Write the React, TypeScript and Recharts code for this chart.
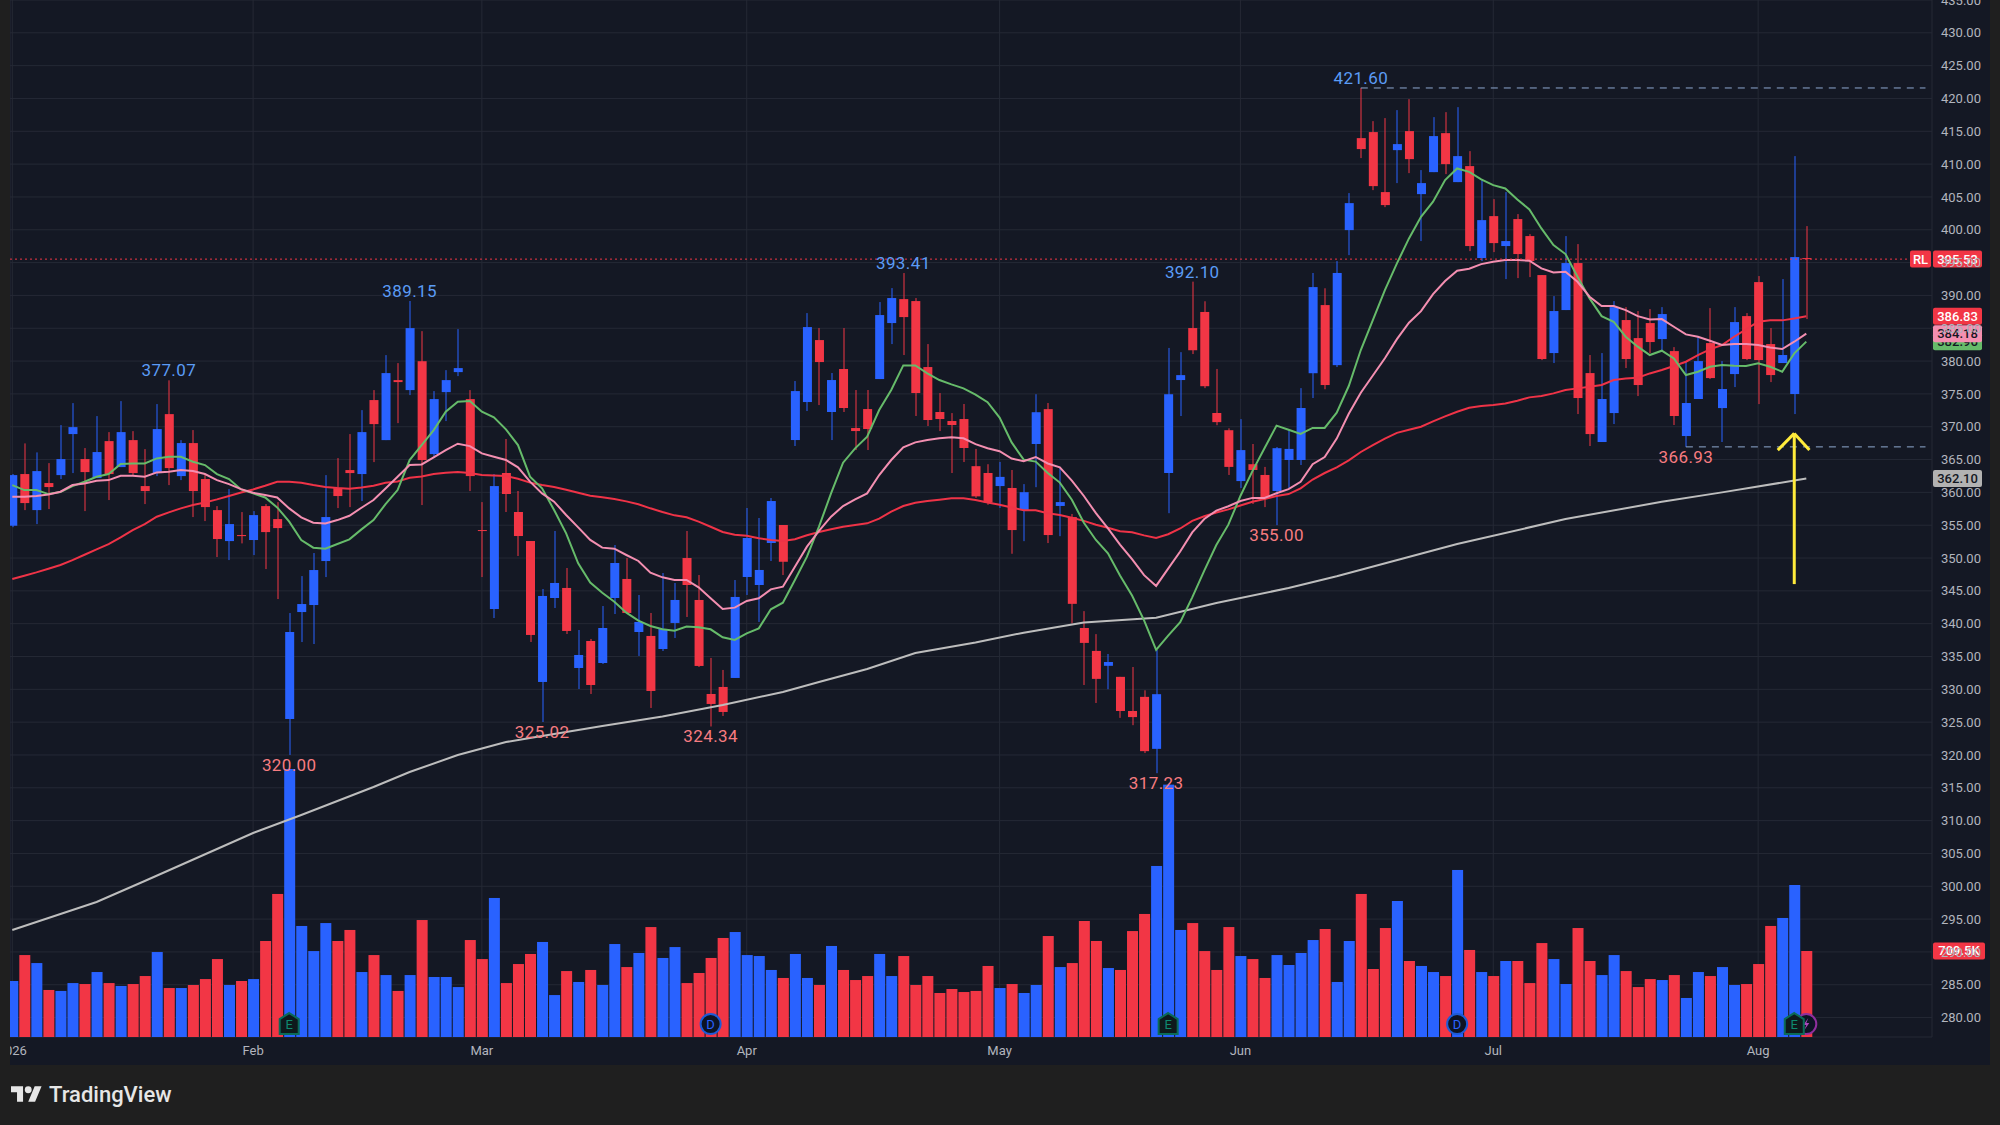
import { Bar, CartesianGrid, ComposedChart, Line, ReferenceDot, ReferenceLine, XAxis, YAxis } from 'recharts'

const opens = [
  354.92, 362.79, 357.3, 361.42, 362.63, 368.88, 365.07, 362.18, 367.81, 363.85,
  367.96, 360.96, 362.94, 371.92, 362.48, 367.51, 362.03, 357.3, 352.58, 353.5,
  352.74, 357.91, 355.93, 325.48, 341.77, 342.84, 349.54, 360.65, 363.4, 362.79,
  374.06, 367.96, 377.1, 375.58, 379.98, 365.83, 375.27, 378.32, 374.21, 354.26,
  342.23, 362.95, 357.01, 352.59, 331.12, 343.91, 345.44, 333.25, 337.36, 334.01,
  343.91, 346.81, 338.73, 338.13, 336.14, 340.11, 350.0, 343.61, 329.29, 330.36,
  331.73, 347.11, 345.89, 352.29, 355.03, 367.97, 373.76, 383.2, 372.24, 378.79,
  369.8, 372.69, 377.26, 385.79, 389.44, 389.14, 379.09, 372.24, 370.87, 371.17,
  363.99, 362.95, 360.96, 360.67, 357.29, 367.37, 372.68, 357.93, 356.24, 339.34,
  335.85, 333.58, 331.9, 326.7, 328.85, 320.93, 362.95, 377.11, 385.03, 387.48,
  372.09, 369.47, 361.72, 364.29, 362.65, 360.21, 364.93, 364.93, 378.15, 388.53,
  379.38, 399.95, 413.96, 414.88, 405.74, 412.13, 415.03, 405.43, 408.78, 414.72,
  407.26, 409.7, 395.69, 402.08, 397.52, 401.63, 399.04, 393.1, 381.22, 387.77,
  394.93, 378.17, 367.67, 372.08, 386.25, 383.5, 385.79, 383.35, 381.52, 368.58,
  374.22, 382.74, 372.84, 378.02, 386.85, 392.03, 382.59, 379.7, 374.98, 395.69,
]
const closes = [
  362.63, 358.37, 363.24, 360.81, 365.07, 369.94, 363.09, 366.14, 362.79, 369.18,
  362.94, 360.2, 369.64, 363.7, 367.51, 360.2, 357.76, 352.89, 355.17, 353.34,
  356.54, 353.95, 354.56, 338.73, 342.99, 348.17, 356.24, 359.44, 362.94, 369.18,
  370.4, 378.17, 376.8, 385.02, 364.92, 374.21, 377.1, 378.93, 362.48, 354.11,
  360.96, 359.75, 353.35, 338.28, 344.22, 346.2, 338.89, 335.23, 330.66, 339.34,
  349.24, 341.63, 340.26, 329.75, 339.19, 343.61, 345.89, 333.56, 327.77, 326.55,
  344.07, 353.05, 348.18, 358.68, 349.43, 375.43, 385.18, 379.85, 377.11, 372.85,
  369.34, 369.65, 387.01, 389.6, 386.7, 375.13, 371.02, 371.17, 370.26, 366.76,
  359.39, 358.46, 362.36, 354.26, 360.03, 372.21, 353.5, 358.52, 343.02, 337.07,
  331.59, 334.16, 326.7, 325.77, 320.58, 329.26, 374.95, 377.86, 381.65, 376.17,
  370.7, 363.88, 366.44, 363.41, 359.16, 366.73, 366.62, 372.85, 391.27, 376.35,
  393.42, 404.06, 412.29, 406.65, 403.76, 413.05, 410.76, 407.11, 414.27, 410.0,
  411.22, 397.52, 401.47, 397.97, 398.28, 396.3, 395.23, 380.31, 387.62, 394.93,
  374.37, 368.88, 374.22, 388.22, 380.31, 376.35, 382.9, 387.16, 371.63, 373.61,
  380.0, 377.41, 375.74, 385.94, 380.31, 380.15, 377.87, 380.92, 395.84, 395.53,
]
const highs = [
  362.8, 367.46, 366.09, 364.46, 370.25, 373.6, 366.75, 371.62, 369.18, 373.9,
  369.33, 366.59, 373.45, 377.07, 367.96, 369.49, 362.63, 357.91, 360.5, 357.0,
  357.15, 358.22, 358.52, 341.62, 347.25, 350.76, 362.63, 365.22, 368.88, 372.53,
  375.58, 380.91, 379.69, 389.15, 384.56, 375.43, 378.62, 384.87, 375.58, 358.52,
  362.79, 368.13, 360.21, 352.59, 345.28, 354.12, 348.48, 339.04, 337.67, 342.69,
  351.98, 350.0, 344.37, 341.63, 347.72, 346.2, 354.12, 347.41, 334.78, 332.95,
  346.65, 357.62, 356.1, 359.14, 355.03, 376.96, 387.31, 385.03, 378.18, 385.03,
  375.59, 375.59, 388.99, 391.12, 393.41, 389.6, 382.59, 375.13, 372.08, 373.46,
  366.62, 364.29, 364.64, 363.41, 361.26, 374.95, 373.61, 363.7, 356.71, 341.91,
  338.41, 335.38, 331.9, 333.4, 329.85, 336.02, 382.0, 381.36, 392.1, 389.11,
  378.8, 369.76, 371.16, 367.37, 363.88, 366.91, 369.53, 375.88, 393.42, 391.09,
  395.23, 405.59, 421.6, 416.55, 417.01, 418.23, 419.9, 409.09, 417.16, 417.92,
  418.68, 411.98, 407.57, 404.67, 405.74, 402.39, 399.34, 393.1, 389.9, 399.04,
  397.82, 380.92, 381.22, 389.14, 388.22, 387.62, 387.92, 388.22, 382.13, 380.0,
  383.66, 388.07, 380.0, 388.22, 387.31, 392.95, 385.03, 392.49, 411.22, 400.56,
]
const lows = [
  354.7, 357.3, 355.17, 357.46, 362.03, 362.94, 357.15, 362.18, 358.83, 363.85,
  362.63, 358.22, 362.48, 361.11, 361.87, 356.24, 355.63, 350.15, 349.69, 352.23,
  350.45, 348.32, 343.75, 320.0, 337.2, 336.9, 347.1, 357.61, 357.76, 358.68,
  364.61, 367.96, 370.55, 374.82, 358.07, 365.22, 370.86, 377.71, 360.2, 347.1,
  340.86, 357.01, 350.31, 337.21, 325.02, 342.39, 338.43, 330.05, 329.29, 333.86,
  341.47, 341.63, 335.08, 327.16, 335.84, 337.82, 341.02, 333.4, 324.34, 325.94,
  331.73, 344.37, 340.26, 349.55, 347.41, 367.06, 372.39, 373.3, 367.97, 372.24,
  366.45, 366.45, 377.26, 382.59, 380.92, 371.63, 370.11, 369.34, 362.95, 364.62,
  359.16, 358.11, 357.64, 350.65, 352.57, 360.79, 352.28, 353.33, 340.04, 330.66,
  327.92, 330.02, 325.65, 324.54, 320.29, 317.23, 356.83, 371.63, 381.07, 375.88,
  370.23, 362.65, 360.67, 358.23, 357.76, 355.0, 360.67, 364.17, 374.37, 375.71,
  379.09, 396.14, 410.92, 406.04, 403.45, 407.11, 408.63, 398.28, 408.78, 408.48,
  407.26, 396.75, 395.23, 396.6, 392.49, 392.64, 392.79, 380.15, 379.7, 387.77,
  371.93, 367.06, 367.67, 370.41, 378.94, 374.67, 381.22, 381.52, 370.26, 366.93,
  374.22, 377.26, 367.67, 376.04, 380.15, 373.45, 376.8, 379.7, 371.93, 386.4,
]
const volumes = [
  462, 676, 610, 388, 380, 445, 437, 536, 445, 421,
  437, 503, 701, 404, 404, 429, 478, 643, 429, 462,
  478, 792, 1180, 2211, 916, 709, 940, 792, 883, 536,
  676, 511, 380, 511, 965, 495, 495, 412, 800, 643,
  1147, 445, 602, 685, 784, 346, 544, 454, 553, 429,
  767, 577, 693, 907, 652, 742, 445, 528, 652, 817,
  866, 676, 668, 553, 487, 685, 487, 429, 751, 553,
  470, 503, 685, 503, 668, 429, 503, 363, 396, 371,
  380, 586, 404, 437, 363, 429, 833, 577, 610, 957,
  792, 569, 553, 874, 1015, 1411, 2082, 883, 940, 709,
  553, 907, 668, 643, 487, 676, 594, 693, 800, 891,
  454, 792, 1180, 561, 899, 1122, 627, 586, 536, 503,
  1378, 718, 536, 503, 627, 627, 445, 775, 643, 437,
  899, 627, 511, 676, 544, 412, 478, 470, 511, 322,
  536, 503, 577, 429, 437, 602, 916, 982, 1254, 709.5,
]
const greenMa = [
  361.1, 360.35, 360.35, 359.74, 360.05, 360.96, 361.62, 362.38, 362.79, 364.31,
  364.41, 364.41, 365.17, 365.43, 365.43, 364.66, 364.16, 362.79, 362.03, 360.45,
  359.84, 359.23, 357.71, 355.53, 352.74, 351.57, 351.41, 352.13, 352.84, 354.36,
  355.78, 358.22, 360.35, 364.92, 367.2, 369.49, 372.28, 373.8, 373.9, 372.28,
  371.42, 369.6, 367.21, 362.39, 360.61, 357.31, 353.76, 349.19, 346.25, 344.72,
  343.35, 341.68, 340.46, 339.65, 339.14, 338.94, 339.55, 339.45, 339.14, 337.92,
  337.52, 338.53, 339.29, 342.19, 343.2, 346.65, 350.21, 354.77, 359.85, 364.52,
  366.7, 368.48, 372.54, 375.59, 379.34, 379.34, 378.13, 377.11, 376.45, 375.84,
  374.89, 373.73, 371.39, 367.61, 364.99, 364.69, 362.94, 361.49, 358.87, 355.37,
  352.75, 350.71, 347.33, 344.3, 340.51, 336.02, 338.18, 340.22, 344.01, 348.09,
  351.99, 355.08, 359.45, 363.24, 366.73, 370.17, 369.53, 368.89, 369.82, 369.82,
  372.15, 376.2, 381.68, 386.25, 390.81, 394.88, 398.68, 401.98, 404.27, 407.57,
  409.34, 408.83, 407.67, 406.8, 406.3, 404.62, 403.1, 400.2, 397.67, 396.3,
  392.84, 389.55, 386.85, 385.99, 383.71, 382.19, 380.92, 381.58, 380.41, 377.87,
  378.38, 379.14, 379.39, 379.29, 379.24, 379.65, 379.14, 378.38, 381.17, 382.96,
]
const pinkMa = [
  359.33, 359.33, 359.44, 359.69, 360.1, 361.11, 361.36, 361.77, 361.87, 362.53,
  362.53, 362.38, 363.04, 363.14, 363.4, 363.24, 362.79, 361.87, 361.26, 360.5,
  359.94, 359.59, 359.23, 357.56, 356.19, 355.38, 355.27, 355.78, 356.44, 357.66,
  358.83, 360.6, 362.38, 364.16, 364.26, 365.33, 366.44, 367.41, 367.05, 365.93,
  365.43, 364.93, 363.81, 361.63, 359.85, 358.58, 356.55, 354.67, 352.75, 351.58,
  351.42, 350.46, 349.55, 347.77, 347.06, 346.65, 346.65, 345.54, 343.86, 342.24,
  342.44, 343.46, 343.86, 345.23, 345.64, 348.68, 351.73, 354.12, 356.3, 357.92,
  358.94, 359.85, 362.64, 364.93, 366.86, 367.62, 367.97, 368.23, 368.38, 368.23,
  367.34, 366.73, 366.27, 365.16, 364.75, 365.39, 364.4, 363.82, 361.78, 359.45,
  356.83, 354.5, 352.05, 349.83, 347.39, 345.75, 348.38, 351.0, 353.91, 355.95,
  357.23, 357.88, 358.69, 359.16, 359.16, 359.86, 360.5, 361.6, 364.29, 365.39,
  368.19, 371.98, 375.18, 377.81, 380.43, 383.34, 385.85, 387.6, 390.2, 392.2,
  393.75, 394.06, 394.77, 395.13, 395.38, 395.38, 395.28, 394.11, 393.5, 393.6,
  392.08, 389.8, 388.38, 388.38, 387.77, 386.85, 386.35, 386.4, 385.23, 384.06,
  383.71, 383.1, 382.44, 382.59, 382.59, 382.44, 382.08, 381.83, 382.95, 384.18,
]
const redMa = [
  346.8, 347.31, 347.81, 348.37, 348.93, 349.69, 350.5, 351.31, 352.13, 353.14,
  354.26, 355.17, 356.29, 356.95, 357.56, 358.07, 358.47, 358.93, 359.44, 359.99,
  360.45, 361.01, 361.62, 361.62, 361.47, 361.11, 360.81, 360.65, 360.55, 360.75,
  361.01, 361.47, 361.67, 362.23, 362.43, 362.79, 362.99, 363.09, 362.94, 362.63,
  362.56, 362.49, 362.08, 361.48, 361.12, 360.82, 360.41, 359.95, 359.5, 359.24,
  358.99, 358.63, 358.18, 357.57, 357.01, 356.5, 356.2, 355.54, 354.77, 353.96,
  353.56, 353.4, 353.0, 352.75, 352.59, 352.85, 353.46, 353.96, 354.37, 354.77,
  355.03, 355.28, 355.99, 357.06, 357.92, 358.43, 358.68, 358.89, 359.09, 359.09,
  358.85, 358.46, 358.11, 357.7, 357.29, 357.29, 356.83, 356.54, 356.13, 355.66,
  355.08, 354.61, 354.09, 353.91, 353.45, 353.04, 353.62, 354.5, 355.66, 356.36,
  356.94, 357.41, 357.99, 358.57, 358.98, 359.45, 359.74, 360.61, 361.96, 362.95,
  363.82, 364.87, 366.15, 367.2, 368.19, 369.06, 369.53, 370.0, 370.81, 371.57,
  372.28, 372.9, 373.15, 373.3, 373.55, 373.96, 374.47, 374.67, 375.08, 375.59,
  375.84, 376.09, 376.35, 377.11, 377.36, 377.46, 378.12, 378.63, 379.24, 379.9,
  380.92, 381.78, 382.44, 383.71, 384.82, 385.99, 386.2, 386.2, 386.5, 386.83,
]
// the 200 line is nearly straight, so it is read at these bars only
const grayMaIndex = [0, 7, 11, 14, 20, 24, 30, 33, 37, 41, 43, 49, 54, 59, 64, 67, 71, 75, 80, 84, 89, 95, 100, 106, 110, 120, 129, 137, 142, 149]
const grayMaValues = [293.34, 297.6, 300.8, 303.24, 308.11, 310.85, 315.12, 317.4, 319.99, 321.97, 322.58, 324.41, 325.86, 327.61, 329.59, 331.11, 333.09, 335.53, 337.12, 338.63, 340.17, 340.9, 343.14, 345.43, 347.21, 352.13, 355.93, 358.57, 360.0, 362.1]

const monthTicks = [0, 20, 39, 61, 82, 102, 123, 145]
const monthLabels = ['2026', 'Feb', 'Mar', 'Apr', 'May', 'Jun', 'Jul', 'Aug']
const priceTicks = [280, 285, 290, 295, 300, 305, 310, 315, 320, 325, 330, 335, 340, 345, 350, 355, 360, 365, 370, 375, 380, 385, 390, 395, 400, 405, 410, 415, 420, 425, 430, 435]

const highLabels = [[13, 377.07], [33, 389.15], [74, 393.41], [98, 392.1], [112, 421.6]]
const lowLabelBars = [23, 44, 58, 95, 105, 139]
const dividendBars = [58, 120]
const earningsBars = [23, 96, 148]

const X_MIN = -0.19
const X_MAX = 159.44
const BLUE = '#2962ff'
const RED = '#f23645'
const FONT = 'Roboto, sans-serif'

const rows = opens.map((open, i) => {
  const grayAt = grayMaIndex.indexOf(i)
  return {
    i,
    open,
    close: closes[i],
    high: highs[i],
    low: lows[i],
    range: [lows[i], highs[i]],
    volume: volumes[i],
    green: greenMa[i],
    pink: pinkMa[i],
    red: redMa[i],
    gray: grayAt >= 0 ? grayMaValues[grayAt] : undefined,
    lowMark: lowLabelBars.includes(i) ? lows[i] : undefined,
  }
})

const barColor = (row: any) => (row.close >= row.open ? BLUE : RED)

function Candle(props: any) {
  const { x, y, width, height, payload } = props
  if (height == null) return null
  const perUnit = height / (payload.high - payload.low)
  const top = y + (payload.high - Math.max(payload.open, payload.close)) * perUnit
  const bodyHeight = Math.max(1, Math.abs(payload.open - payload.close) * perUnit)
  const color = barColor(payload)
  const mid = Math.round(x + width / 2)
  return (
    <g>
      <rect x={mid - 0.5} y={y} width={1} height={height} fill={color} />
      <rect x={x} y={top} width={width} height={bodyHeight} fill={color} />
    </g>
  )
}

function VolumeBar(props: any) {
  const { x, y, width, height, payload } = props
  return <rect x={x} y={y} width={width} height={height} fill={barColor(payload)} />
}

function Badge({ cx, cy, text, fill, color, width = 49 }: any) {
  return (
    <g>
      <rect x={cx + 1} y={cy - 8.5} width={width} height={17} rx={2} fill={fill} />
      <text x={cx + 1 + width / 2} y={cy + 4.5} textAnchor="middle" fontFamily={FONT} fontSize={13} fontWeight={500} fill={color}>
        {text}
      </text>
    </g>
  )
}

function EarningsIcon({ cx, cy }: any) {
  return (
    <g>
      <path
        d={`M${cx} ${cy - 11} L${cx + 9.5} ${cy - 5} V${cy + 10} H${cx - 9.5} V${cy - 5} Z`}
        fill="#0e1a1c"
        stroke="#0b6b58"
        strokeWidth={2}
      />
      <text x={cx} y={cy + 5} textAnchor="middle" fontFamily={FONT} fontSize={13} fill="#0f8a6f">E</text>
    </g>
  )
}

function DividendIcon({ cx, cy }: any) {
  return (
    <g>
      <circle cx={cx} cy={cy} r={10} fill="#0d1424" stroke="#1d5bd6" strokeWidth={2} />
      <text x={cx} y={cy + 5} textAnchor="middle" fontFamily={FONT} fontSize={13} fill="#2962ff">D</text>
    </g>
  )
}

function SplitIcon({ cx, cy }: any) {
  return (
    <g>
      <circle cx={cx} cy={cy} r={10} fill="#0d1424" stroke="#8e2f9e" strokeWidth={2} />
      <path d={`M${cx + 2} ${cy - 6} L${cx - 3} ${cy + 1} H${cx} L${cx - 2} ${cy + 6} L${cx + 3} ${cy - 1} H${cx} Z`} fill="#ab47bc" />
    </g>
  )
}

function PriceText({ cx, cy, text, fill }: any) {
  return (
    <text x={cx} y={cy} textAnchor="middle" dominantBaseline="central" fontFamily={FONT} fontSize={17} letterSpacing={0.4} fill={fill}>
      {text}
    </text>
  )
}

// drawn as a line's dots so that the volume bars lie over these labels, as in the picture
function LowMark(props: any) {
  const { cx, cy, payload } = props
  if (payload.lowMark == null || cy == null) return <g />
  return <PriceText cx={cx} cy={cy + 10} text={payload.lowMark.toFixed(2)} fill="#f77c80" />
}

export default function App() {
  return (
    <div style={{ position: 'absolute', left: 0, top: 0, width: 2000, height: 1125, background: '#1f1f1f', overflow: 'hidden' }}>
      <div style={{ position: 'absolute', left: 10, top: 0, width: 1980, height: 1065, background: '#141824' }}>
        <ComposedChart width={1980} height={1065} data={rows} margin={{ top: 0, right: 0, bottom: 0, left: 0 }} barGap={0}>
          <CartesianGrid stroke="#252935" strokeWidth={1} />
          <XAxis
            dataKey="i"
            type="number"
            domain={[X_MIN, X_MAX]}
            allowDataOverflow
            ticks={monthTicks}
            interval={0}
            tickFormatter={(v: number) => monthLabels[monthTicks.indexOf(v)]}
            axisLine={false}
            tickLine={false}
            tickSize={0}
            tickMargin={9}
            height={28}
            tick={{ fill: '#b2b5be', fontSize: 13, fontFamily: FONT }}
          />
          <XAxis xAxisId="vol" dataKey="i" type="number" domain={[X_MIN, X_MAX]} allowDataOverflow hide height={0} />
          <YAxis
            orientation="right"
            domain={[277.04, 435]}
            allowDataOverflow
            ticks={priceTicks}
            interval={0}
            width={58}
            axisLine={false}
            tickLine={false}
            tickSize={0}
            tickMargin={9}
            tickFormatter={(v: number) => v.toFixed(2)}
            tick={{ fill: '#b2b5be', fontSize: 13, fontFamily: FONT, textAnchor: 'start' }}
          />
          <YAxis yAxisId="vol" domain={[0, 8555]} allowDataOverflow hide width={0} />

          <Line dataKey="gray" stroke="#bdbdbd" strokeWidth={2} dot={false} connectNulls isAnimationActive={false} />
          <Line dataKey="lowMark" stroke="none" dot={<LowMark />} isAnimationActive={false} />
          <Line dataKey="red" stroke="#ef3347" strokeWidth={2} dot={false} isAnimationActive={false} />
          <Line dataKey="green" stroke="#66bb6a" strokeWidth={2} dot={false} isAnimationActive={false} />
          <Line dataKey="pink" stroke="#f48fb1" strokeWidth={2} dot={false} isAnimationActive={false} />
          <Bar dataKey="volume" xAxisId="vol" yAxisId="vol" barSize={11} shape={<VolumeBar />} isAnimationActive={false} />
          <Bar dataKey="range" barSize={9} shape={<Candle />} isAnimationActive={false} />

          <ReferenceLine stroke={RED} strokeDasharray="2 3" segment={[{ x: X_MIN, y: 395.53 }, { x: 158.5, y: 395.53 }]} />
          <ReferenceLine segment={[{ x: 112, y: 421.6 }, { x: 158.9, y: 421.6 }]} stroke="#8fa9d0" strokeDasharray="7 6" />
          <ReferenceLine segment={[{ x: 139, y: 366.93 }, { x: 158.9, y: 366.93 }]} stroke="#8fa9d0" strokeDasharray="7 6" />

          <ReferenceLine segment={[{ x: 148, y: 346.03 }, { x: 148, y: 368.98 }]} stroke="#ffeb3b" strokeWidth={3} />
          <ReferenceLine segment={[{ x: 146.63, y: 366.44 }, { x: 148, y: 368.98 }]} stroke="#ffeb3b" strokeWidth={3} />
          <ReferenceLine segment={[{ x: 149.26, y: 366.44 }, { x: 148, y: 368.98 }]} stroke="#ffeb3b" strokeWidth={3} />

          {highLabels.map(([i, price]) => (
            <ReferenceDot
              key={`h${i}`}
              x={i}
              y={price}
              r={0}
              shape={(p: any) => <PriceText cx={p.cx} cy={p.cy - 10} text={price.toFixed(2)} fill="#5b9cf6" />}
            />
          ))}

          <ReferenceDot xAxisId="vol" yAxisId="vol" x={149} y={107} r={0} shape={(p: any) => <SplitIcon cx={p.cx} cy={p.cy} />} />
          {earningsBars.map((i) => (
            <ReferenceDot key={`e${i}`} xAxisId="vol" yAxisId="vol" x={i} y={107} r={0} shape={(p: any) => <EarningsIcon cx={p.cx} cy={p.cy} />} />
          ))}
          {dividendBars.map((i) => (
            <ReferenceDot key={`d${i}`} xAxisId="vol" yAxisId="vol" x={i} y={107} r={0} shape={(p: any) => <DividendIcon cx={p.cx} cy={p.cy} />} />
          ))}

          <ReferenceDot x={X_MAX} y={382.96} r={0} shape={(p: any) => <Badge cx={p.cx} cy={p.cy} text="382.96" fill="#66bb6a" color="#131722" />} />
          <ReferenceDot x={X_MAX} y={384.18} r={0} shape={(p: any) => <Badge cx={p.cx} cy={p.cy} text="384.18" fill="#f48fb1" color="#131722" />} />
          <ReferenceDot x={X_MAX} y={386.83} r={0} shape={(p: any) => <Badge cx={p.cx} cy={p.cy} text="386.83" fill={RED} color="#ffffff" />} />
          <ReferenceDot x={X_MAX} y={362.1} r={0} shape={(p: any) => <Badge cx={p.cx} cy={p.cy} text="362.10" fill="#b2b2b2" color="#131722" />} />
          <ReferenceDot
            x={X_MAX}
            y={395.53}
            r={0}
            shape={(p: any) => (
              <g>
                <Badge cx={p.cx - 23} cy={p.cy} text="RL" fill={RED} color="#ffffff" width={21} />
                <Badge cx={p.cx} cy={p.cy} text="395.53" fill={RED} color="#ffffff" />
              </g>
            )}
          />
          <ReferenceDot xAxisId="vol" yAxisId="vol" x={X_MAX} y={709.5} r={0} shape={(p: any) => <Badge cx={p.cx} cy={p.cy} text="709.5K" fill={RED} color="#ffffff" width={52} />} />
        </ComposedChart>
      </div>
      <svg style={{ position: 'absolute', left: 11, top: 1086 }} width={31} height={17} viewBox="0 4 36 19">
        <path d="M14 22H7V11H0V4h14v18zM28 22h-8l7.5-18h8L28 22z" fill="#e6e6e6" />
        <circle cx={20} cy={8} r={4} fill="#e6e6e6" />
      </svg>
      <div style={{ position: 'absolute', left: 49, top: 1081, fontFamily: FONT, fontSize: 22, fontWeight: 500, color: '#e6e6e6', lineHeight: '28px' }}>
        TradingView
      </div>
    </div>
  )
}
